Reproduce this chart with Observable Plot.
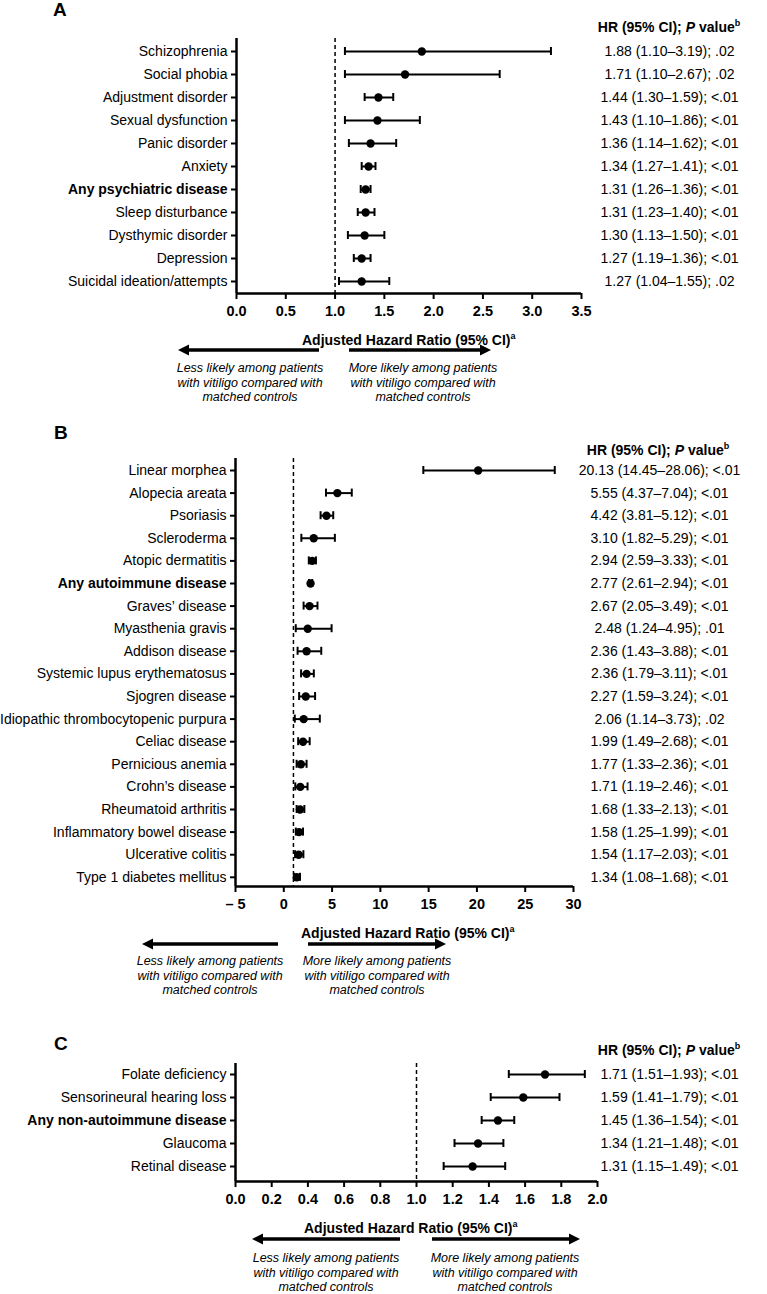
<!DOCTYPE html>
<html><head><meta charset="utf-8">
<script src="https://cdn.jsdelivr.net/npm/d3@7"></script>
<script src="https://cdn.jsdelivr.net/npm/@observablehq/plot@0.6"></script>
<style>
body{margin:0;background:#fff;font-family:"Liberation Sans",Arial,sans-serif;color:#000}
#root{position:relative;width:767px;height:1294px;overflow:hidden;background:#fff}
.abs{position:absolute;white-space:nowrap}
.letter{font-weight:bold;font-size:19px;transform:translateY(-50%)}
.hdr{font-weight:bold;font-size:14px;transform:translate(-50%,-50%)}
.ttl{font-weight:bold;font-size:14px;transform:translateY(-50%)}
sup{font-size:9px;vertical-align:6px;line-height:0}
.note{font-style:italic;font-size:12.5px;line-height:14.5px;text-align:center;transform:translateX(-50%)}
</style></head><body><div id="root"></div>
<script>
// ---------- Panel A: psychiatric ----------
const psychNames = ["Schizophrenia","Social phobia","Adjustment disorder","Sexual dysfunction","Panic disorder","Anxiety","Any psychiatric disease","Sleep disturbance","Dysthymic disorder","Depression","Suicidal ideation/attempts"];
const psychHR = [1.88,1.71,1.44,1.43,1.36,1.34,1.31,1.31,1.30,1.27,1.27];
const psychLo = [1.10,1.10,1.30,1.10,1.14,1.27,1.26,1.23,1.13,1.19,1.04];
const psychHi = [3.19,2.67,1.59,1.86,1.62,1.41,1.36,1.40,1.50,1.36,1.55];
const psychP = [".02",".02","<.01","<.01","<.01","<.01","<.01","<.01","<.01","<.01",".02"];
const psychTicks = [0,0.5,1,1.5,2,2.5,3,3.5];

// ---------- Panel B: autoimmune ----------
const autoNames = ["Linear morphea","Alopecia areata","Psoriasis","Scleroderma","Atopic dermatitis","Any autoimmune disease","Graves\u2019 disease","Myasthenia gravis","Addison disease","Systemic lupus erythematosus","Sjogren disease","Idiopathic thrombocytopenic purpura","Celiac disease","Pernicious anemia","Crohn\u2019s disease","Rheumatoid arthritis","Inflammatory bowel disease","Ulcerative colitis","Type 1 diabetes mellitus"];
const autoHR = [20.13,5.55,4.42,3.10,2.94,2.77,2.67,2.48,2.36,2.36,2.27,2.06,1.99,1.77,1.71,1.68,1.58,1.54,1.34];
const autoLo = [14.45,4.37,3.81,1.82,2.59,2.61,2.05,1.24,1.43,1.79,1.59,1.14,1.49,1.33,1.19,1.33,1.25,1.17,1.08];
const autoHi = [28.06,7.04,5.12,5.29,3.33,2.94,3.49,4.95,3.88,3.11,3.24,3.73,2.68,2.36,2.46,2.13,1.99,2.03,1.68];
const autoP = ["<.01","<.01","<.01","<.01","<.01","<.01","<.01",".01","<.01","<.01","<.01",".02","<.01","<.01","<.01","<.01","<.01","<.01","<.01"];
const autoTicks = [-5,0,5,10,15,20,25,30];

// ---------- Panel C: non-autoimmune ----------
const nonNames = ["Folate deficiency","Sensorineural hearing loss","Any non-autoimmune disease","Glaucoma","Retinal disease"];
const nonHR = [1.71,1.59,1.45,1.34,1.31];
const nonLo = [1.51,1.41,1.36,1.21,1.15];
const nonHi = [1.93,1.79,1.54,1.48,1.49];
const nonP = ["<.01","<.01","<.01","<.01","<.01"];
const nonTicks = [0,0.2,0.4,0.6,0.8,1.0,1.2,1.4,1.6,1.8,2.0];

const FONT = '"Liberation Sans", Arial, sans-serif';
const root = document.getElementById("root");

function panel(o) {
  const rows = o.names.map((name, i) => ({
    i, name, hr: o.hr[i], lo: o.lo[i], hi: o.hi[i],
    bold: name.startsWith("Any "),
    text: `${o.hr[i].toFixed(2)} (${o.lo[i].toFixed(2)}\u2013${o.hi[i].toFixed(2)}); ${o.p[i]}`
  }));
  const n = rows.length;
  const yDomain = [-o.padTop, n - 1 + o.padBottom];
  const chart = Plot.plot({
    width: 767, height: o.height,
    marginLeft: o.marginLeft, marginRight: o.marginRight,
    marginTop: o.marginTop, marginBottom: o.marginBottom,
    style: {fontFamily: FONT, fontSize: "14px", color: "#000", background: "transparent", overflow: "visible"},
    x: {domain: o.xDomain},
    y: {domain: yDomain, reverse: true},
    marks: [
      Plot.axisX({ticks: o.ticks, tickFormat: o.fmt, tickSize: 6, tickPadding: 6, strokeWidth: 2, fontWeight: "bold", fontSize: 14.5, label: null}),
      Plot.axisY({ticks: d3.range(n), tickFormat: () => "", tickSize: 5, strokeWidth: 2, label: null}),
      Plot.ruleX([1], {strokeDasharray: "4,3", strokeWidth: 1.5}),
      Plot.ruleX([o.xDomain[0]], {strokeWidth: 2.5}),
      Plot.ruleY([yDomain[1]], {strokeWidth: 2.5}),
      Plot.ruleY(rows, {y: "i", x1: "lo", x2: "hi", strokeWidth: 2}),
      Plot.ruleX(rows, {x: "lo", y1: "i", y2: "i", insetTop: -4, insetBottom: -4, strokeWidth: 2}),
      Plot.ruleX(rows, {x: "hi", y1: "i", y2: "i", insetTop: -4, insetBottom: -4, strokeWidth: 2}),
      Plot.dot(rows, {x: "hr", y: "i", r: 4.2, fill: "black", stroke: null}),
      Plot.text(rows.filter(d => !d.bold), {y: "i", text: "name", frameAnchor: "left", dx: -9, textAnchor: "end", fontSize: 14}),
      Plot.text(rows.filter(d => d.bold), {y: "i", text: "name", frameAnchor: "left", dx: -9, textAnchor: "end", fontSize: 14, fontWeight: "bold"}),
      Plot.text(rows, {y: "i", text: "text", frameAnchor: "right", dx: o.valueDx, textAnchor: "middle", fontSize: 14})
    ]
  });
  chart.style.position = "absolute";
  chart.style.left = "0px";
  chart.style.top = o.top + "px";
  root.appendChild(chart);
}

panel({names: psychNames, hr: psychHR, lo: psychLo, hi: psychHi, p: psychP,
  ticks: psychTicks, fmt: d => d.toFixed(1), xDomain: [0, 3.5],
  top: 0, height: 325, marginTop: 38, marginBottom: 32, marginLeft: 236, marginRight: 186,
  padTop: 0.565, padBottom: 0.522, valueDx: 88});
panel({names: autoNames, hr: autoHR, lo: autoLo, hi: autoHi, p: autoP,
  ticks: autoTicks, fmt: d => d < 0 ? "\u2013 " + Math.abs(d) : String(d), xDomain: [-5, 30],
  top: 420, height: 500, marginTop: 38, marginBottom: 34, marginLeft: 235, marginRight: 194,
  padTop: 0.531, padBottom: 0.407, valueDx: 86});
panel({names: nonNames, hr: nonHR, lo: nonLo, hi: nonHi, p: nonP,
  ticks: nonTicks, fmt: d => d.toFixed(1), xDomain: [0, 2],
  top: 1025, height: 190, marginTop: 38, marginBottom: 34, marginLeft: 235, marginRight: 170,
  padTop: 0.478, padBottom: 0.652, valueDx: 72});

// ---------- annotations ----------
function add(cls, html, left, top) {
  const d = document.createElement("div");
  d.className = "abs " + cls;
  d.innerHTML = html;
  d.style.left = left + "px";
  d.style.top = top + "px";
  root.appendChild(d);
}
const header = 'HR (95% CI); <i>P</i> value<sup>b</sup>';
const title = 'Adjusted Hazard Ratio (95% CI)<sup>a</sup>';
const less = 'Less likely among patients<br>with vitiligo compared with<br>matched controls';
const more = 'More likely among patients<br>with vitiligo compared with<br>matched controls';

const panels = [
  {letter: "A", lx: 53, ly: 10, hx: 669, hy: 27, tx: 302, ty: 340, ay: 350, l: [319, 178], r: [349, 491], nl: 250, nr: 423, ny: 361},
  {letter: "B", lx: 54, ly: 433, hx: 658, hy: 450, tx: 301, ty: 933, ay: 944, l: [278, 142], r: [308, 446], nl: 210, nr: 377, ny: 954},
  {letter: "C", lx: 54, ly: 1044, hx: 669, hy: 1050, tx: 304, ty: 1228, ay: 1239, l: [400, 252], r: [432, 580], nl: 326, nr: 505, ny: 1251}
];
const NS = "http://www.w3.org/2000/svg";
const ov = document.createElementNS(NS, "svg");
ov.setAttribute("width", 767); ov.setAttribute("height", 1294);
ov.style.position = "absolute"; ov.style.left = "0"; ov.style.top = "0";
function arrow(x1, x2, y) {
  const dir = Math.sign(x2 - x1), head = 11, hw = 5.5;
  const line = document.createElementNS(NS, "line");
  line.setAttribute("x1", x1); line.setAttribute("x2", x2 - dir * head + dir);
  line.setAttribute("y1", y); line.setAttribute("y2", y);
  line.setAttribute("stroke", "#000"); line.setAttribute("stroke-width", 3.4);
  ov.appendChild(line);
  const poly = document.createElementNS(NS, "polygon");
  poly.setAttribute("points", `${x2},${y} ${x2 - dir * head},${y - hw} ${x2 - dir * head},${y + hw}`);
  poly.setAttribute("fill", "#000");
  ov.appendChild(poly);
}
for (const p of panels) {
  add("letter", p.letter, p.lx, p.ly);
  add("hdr", header, p.hx, p.hy);
  add("ttl", title, p.tx, p.ty);
  add("note", less, p.nl, p.ny);
  add("note", more, p.nr, p.ny);
  arrow(p.l[0], p.l[1], p.ay);
  arrow(p.r[0], p.r[1], p.ay);
}
root.appendChild(ov);
</script>
</body></html>
